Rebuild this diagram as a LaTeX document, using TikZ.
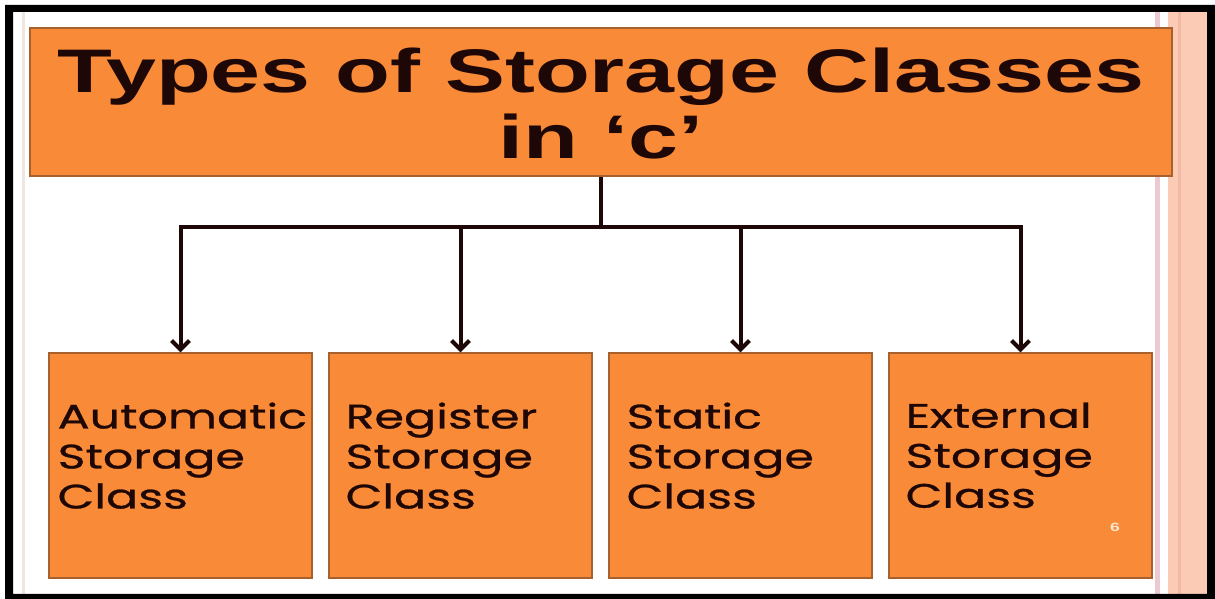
\documentclass[tikz,border=0pt]{standalone}
\usepackage{fontspec}
\usetikzlibrary{arrows.meta, calc, positioning}
\newfontfamily\headfont[FakeStretch=1.46]{Liberation Sans}
\newfontfamily\boxfont[FakeStretch=1.4, FakeBold=0.8]{Poppins}
\definecolor{mOrange}{HTML}{F98A37}
\definecolor{mEdge}{HTML}{A8612C}
\definecolor{mInk}{HTML}{1E0707}
\definecolor{mPink}{HTML}{EBCAD2}
\definecolor{mSalmon}{HTML}{FBCBB6}
\definecolor{mSalmonD}{HTML}{F2B9A4}
\definecolor{mCream}{HTML}{EFE7DF}
\definecolor{mPage}{HTML}{FBE6D2}
\tikzset{
  kindbox/.style={draw=mEdge, line width=1.2pt, fill=mOrange, minimum width=263pt,
                  minimum height=225pt, inner sep=0pt},
  kindtext/.style={font=\boxfont\fontsize{34}{40}\selectfont, text=mInk, align=left,
                   inner sep=0pt, anchor=north west},
  link/.style={line width=4pt, mInk}
}

\begin{document}
\begin{tikzpicture}[x=1pt, y=1pt, >={Straight Barb[length=9pt, width=18pt]}]
  \useasboundingbox (0,0) rectangle (1215,599);
  \fill[white] (0,0) rectangle (1215,599);
  % slide frame and side stripes
  \fill[mCream] (22,5) rectangle (25,587);
  \fill[mPink] (1155,5) rectangle (1160,587);
  \fill[mSalmon] (1168,5) rectangle (1207,587);
  \fill[mSalmonD] (1178,5) rectangle (1181,587);
  \fill[black, even odd rule] (5,594) rectangle (1215,0) (13,587) rectangle (1207,5);
  % heading
  \node[draw=mEdge, line width=1.2pt, fill=mOrange, minimum width=1142pt, minimum height=148pt]
    (title) at (601,497) {};
  \node[font=\headfont\bfseries\fontsize{61.5}{66}\selectfont, text=mInk, align=center,
        inner sep=0pt] (head) at (601,495) {Types of Storage Classes\\in ‘c’};
  \coordinate (bus) at (601,372);
  % the four kinds
  \foreach \i/\lab/\dx in {1/Automatic/9, 2/Register/17, 3/Static/18, 4/External/17} {
    \node[kindbox] (b\i) at ({180.5+280*(\i-1)},133.5) {};
    \node[kindtext] (t\i) at ($(b\i.north west)+(\dx,-50)$) {\lab\\Storage\\Class};
    \draw[link, ->] (bus -| b\i.north) -- (b\i.north);
  }
  \draw[link] (title.south) -- (bus);
  \draw[link, line cap=rect] (bus -| b1.north) -- (bus -| b4.north);
  \node[font=\headfont\bfseries\fontsize{12}{13}\selectfont, text=mPage] (page) at (1115,72) {6};
\end{tikzpicture}
\end{document}
